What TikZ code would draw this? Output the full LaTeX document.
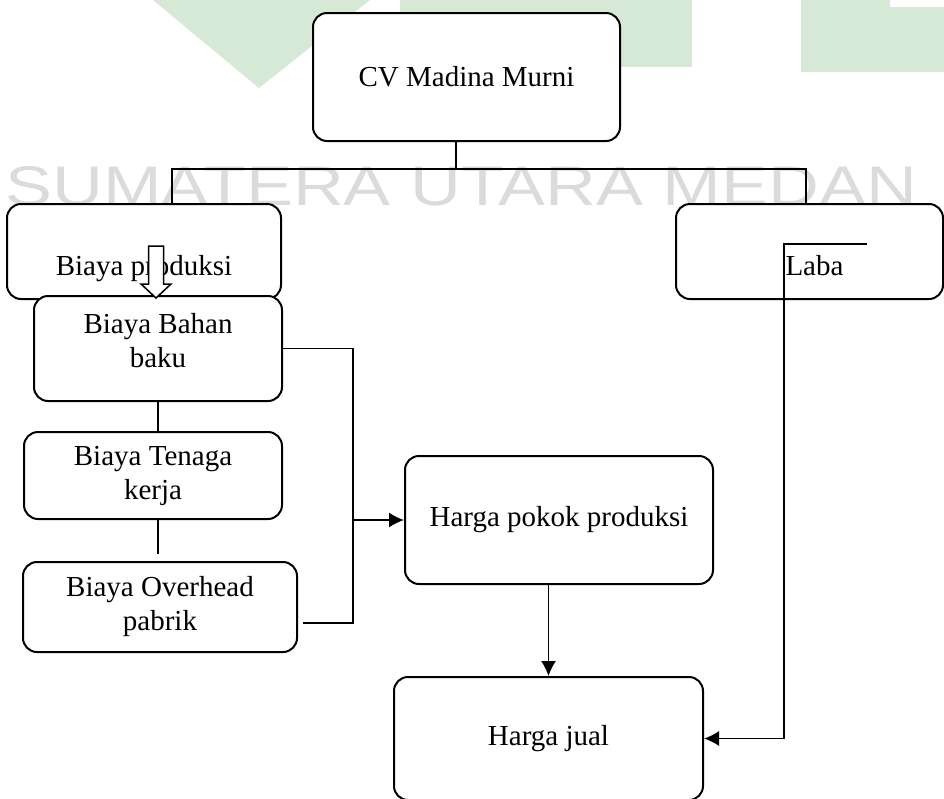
\documentclass[tikz,border=0pt]{standalone}
\usepackage{fontspec}
\setmainfont{Liberation Serif}
\newfontfamily\wmfont{Liberation Sans}
\usetikzlibrary{arrows.meta}
\definecolor{wmgreen}{rgb}{0.84,0.91,0.84}
\definecolor{wmgray}{rgb}{0.86,0.86,0.86}

\begin{document}
\begin{tikzpicture}[x=0.5pt, y=-0.5pt,
    every node/.style={font=\fontsize{14.5}{17}\selectfont},
    box/.style={draw, fill=white, rounded corners=7pt, line width=1pt, inner sep=0pt, align=center},
    conn/.style={line width=0.75pt},
    arr/.style={line width=0.75pt, -{Latex[length=7.5pt,width=7.5pt]}}]
    \useasboundingbox (0,0) rectangle (944,799);
    % watermark behind everything
    \fill[wmgreen] (153,0) -- (370,0) -- (259,88) -- cycle;
    \fill[wmgreen] (400,0) rectangle (692,67);
    \fill[wmgreen] (801,0) -- (890,0) -- (890,7) -- (944,7) -- (944,72) -- (801,72) -- cycle;
    \node[text=wmgray, font=\wmfont\fontsize{27.9}{30}\selectfont, anchor=base west, inner sep=0pt] (wm) at (5,205) {\scalebox{1.26}[1]{SUMATERA UTARA MEDAN}};
    % boxes
    \node[box, minimum width=153.5pt, minimum height=64pt] (cv) at (466.5,77) {CV Madina Murni};
    \node[box, minimum width=137pt, minimum height=47.5pt] (prod) at (144,251.5) {};
    \node[box, minimum width=133.5pt, minimum height=47.5pt] (laba) at (809.5,251.5) {};
    \node[box, minimum width=124pt, minimum height=52.5pt] (bahan) at (158,348.5) {};
    \node[box, minimum width=129pt, minimum height=43.5pt] (tenaga) at (153,475.5) {Biaya Tenaga\\kerja};
    \node[box, minimum width=137pt, minimum height=45pt] (over) at (160,607) {Biaya Overhead\\pabrik};
    \node[box, minimum width=154pt, minimum height=64pt] (hpp) at (559,520) {Harga pokok produksi};
    \node[box, minimum width=154.5pt, minimum height=61.5pt] (jual) at (548.5,738.5) {Harga jual};
    % texts sitting off centre
    \node (tprod) at ([yshift=-8.5pt]prod.center) {Biaya produksi};
    \node[align=center] (tbahan) at ([yshift=4pt]bahan.center) {Biaya Bahan\\baku};
    \node (tlaba) at ([xshift=2.5pt,yshift=-7.25pt]laba.center) {Laba};
    % tree from the top
    \coordinate (split) at (456,169);
    \coordinate (sl) at (172,169);
    \coordinate (sr) at (806,169);
    \draw[conn] (split |- cv.south) -- (split);
    \draw[conn] (sl |- prod.north) -- (sl) -- (sr) -- (sr |- laba.north);
    % hollow arrow
    \coordinate (ptip) at (156,298);
    \draw[line width=0.75pt, fill=white] (ptip) -- ++(-15,-14) -- ++(7.5,0) -- ++(0,-38) -- ++(15,0) -- ++(0,38) -- ++(7.5,0) -- cycle;
    % cost column
    \draw[conn] (bahan.south) -- (bahan.south |- tenaga.north);
    \draw[conn, shorten >=3.5pt] (bahan.south |- tenaga.south) -- (bahan.south |- over.north);
    \coordinate (jb) at (353,623);
    \draw[conn, shorten >=2.5pt] (bahan.east) -| (jb) -- (jb -| over.east);
    \draw[arr] (jb |- hpp.west) -- (hpp.west);
    \draw[arr] (hpp.south -| jual.north) -- (jual.north);
    % laba line
    \coordinate (lend) at (867,244);
    \coordinate (lturn) at (784,244);
    \draw[arr] (lend) -- (lturn) |- (jual.east);
\end{tikzpicture}
\end{document}
